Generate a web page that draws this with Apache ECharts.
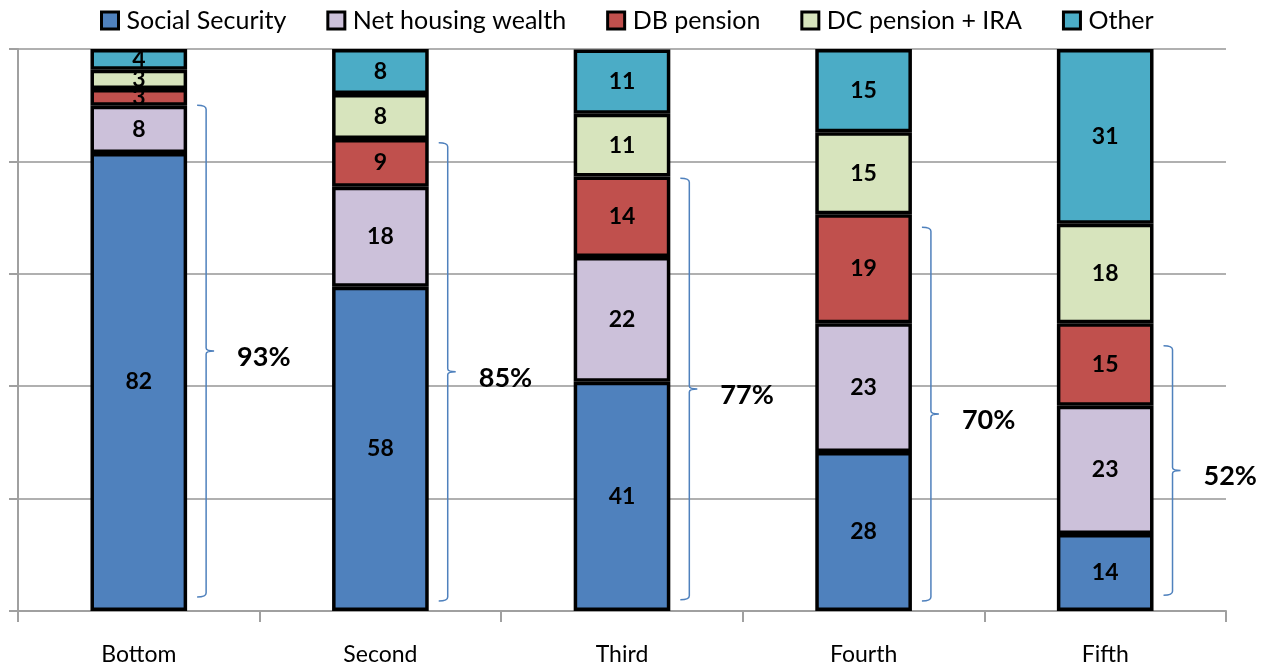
<!DOCTYPE html>
<html>
<head>
<meta charset="utf-8">
<script src="https://cdn.jsdelivr.net/npm/echarts@6/dist/echarts.min.js"></script>
<style>
  html, body { margin: 0; padding: 0; background: #fff; }
  #chart { width: 1262px; height: 669px; }
</style>
</head>
<body>
<div id="chart"></div>
<script>
// quintiles of wealth
const categories = ['Bottom', 'Second', 'Third', 'Fourth', 'Fifth'];

// share of retirement resources, percent
const socialSecurity = [81.5, 57.7, 40.8, 28.3, 13.7];
const netHousing = [8.4, 17.8, 22.2, 22.9, 22.8];
const dbPension = [3.0, 8.5, 14.3, 19.4, 14.7];
const dcPension = [3.4, 8.0, 11.2, 14.6, 17.7];
const other = [3.7, 8.0, 11.4, 14.8, 31.1];

// braces: span low..high, with the summed share
const braceLow = [2.5, 1.8, 2.0, 1.8, 2.8];
const braceHigh = [90, 83.3, 77, 68.3, 47.2];
const bracePct = ['93%', '85%', '77%', '70%', '52%'];

const FONT = 'Lato, "Open Sans", sans-serif';

const seriesDefs = [
  { name: 'Social Security', data: socialSecurity, color: '#4F81BD' },
  { name: 'Net housing wealth', data: netHousing, color: '#CCC1DA' },
  { name: 'DB pension', data: dbPension, color: '#C0504D' },
  { name: 'DC pension + IRA', data: dcPension, color: '#D7E4BD' },
  { name: 'Other', data: other, color: '#4BACC6' }
];

const barSeries = seriesDefs.map(s => ({
  name: s.name,
  type: 'bar',
  stack: 'total',
  barWidth: '40%',
  data: s.data,
  itemStyle: { color: s.color, borderColor: '#000', borderWidth: 3.5 },
  label: {
    show: true,
    position: 'inside',
    color: '#000',
    fontFamily: FONT,
    fontWeight: 'bold',
    fontSize: 23,
    formatter: p => Math.round(p.value)
  },
  emphasis: { disabled: true }
}));

const braceData = categories.map((c, i) => [i, braceLow[i], braceHigh[i], bracePct[i]]);

const braceSeries = {
  type: 'custom',
  name: 'brace',
  clip: false,
  silent: true,
  data: braceData,
  renderItem: (params, api) => {
    const band = api.size([1, 0])[0];
    const top = api.coord([api.value(0), api.value(2)]);
    const bot = api.coord([api.value(0), api.value(1)]);
    const x = top[0] + band * 0.2 + 19;
    const yt = top[1], yb = bot[1];
    const ym = (yt + yb) / 2;
    const path = [
      'M', x - 9, yt, 'Q', x, yt, x, yt + 4,
      'L', x, ym - 3, 'Q', x, ym, x + 8, ym,
      'Q', x, ym, x, ym + 3,
      'L', x, yb - 4, 'Q', x, yb, x - 9, yb
    ].join(' ');
    return {
      type: 'group',
      children: [
        {
          type: 'path',
          shape: { pathData: path },
          style: { fill: 'none', stroke: '#4F81BD', lineWidth: 1.5 }
        },
        {
          type: 'text',
          style: {
            x: x + 31,
            y: ym + 6,
            text: api.value(3),
            fill: '#000',
            font: 'bold 27px ' + FONT,
            align: 'left',
            verticalAlign: 'middle'
          }
        }
      ]
    };
  }
};

const chart = echarts.init(document.getElementById('chart'), null, { renderer: 'canvas' });
chart.setOption({
  animation: false,
  textStyle: { fontFamily: FONT },
  legend: {
    data: seriesDefs.map(s => s.name),
    top: 3,
    left: 95,
    icon: 'rect',
    itemWidth: 17,
    itemHeight: 17,
    itemGap: 40,
    itemStyle: { borderColor: '#000', borderWidth: 3 },
    textStyle: { fontFamily: FONT, fontSize: 25, color: '#000', padding: [0, 0, 0, 3] }
  },
  grid: { left: 18, right: 36, top: 49, bottom: 58, containLabel: false },
  xAxis: {
    type: 'category',
    data: categories,
    axisLine: { lineStyle: { color: '#A0A0A0', width: 2 } },
    axisTick: { show: true, length: 11, lineStyle: { color: '#A0A0A0', width: 2 } },
    axisLabel: { color: '#000', fontSize: 23, fontFamily: FONT, margin: 32 }
  },
  yAxis: {
    type: 'value',
    min: 0,
    max: 100,
    interval: 20,
    axisLine: { show: true, lineStyle: { color: '#A0A0A0', width: 2 } },
    axisTick: { show: true, length: 9, lineStyle: { color: '#A0A0A0', width: 2 } },
    axisLabel: { show: false },
    splitLine: { lineStyle: { color: '#B0B0B0', width: 2 } }
  },
  series: [...barSeries, braceSeries]
});
</script>
</body>
</html>
